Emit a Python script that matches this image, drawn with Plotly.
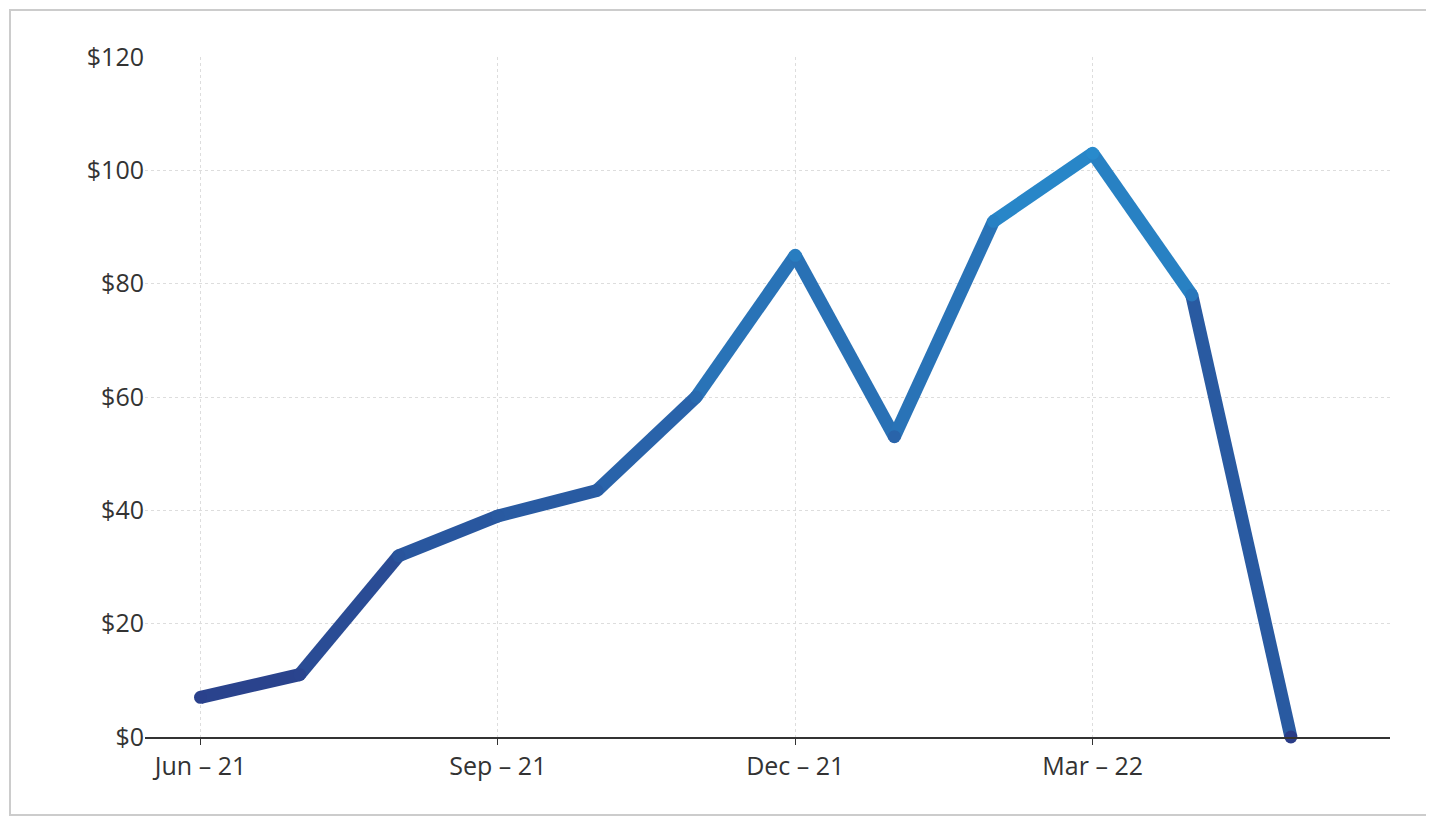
import plotly.graph_objects as go

months = ["Jun – 21","Jul – 21","Aug – 21","Sep – 21","Oct – 21","Nov – 21","Dec – 21","Jan – 22","Feb – 22","Mar – 22","Apr – 22","May – 22"]
values = [7, 11, 32, 39, 43.5, 60, 85, 53, 91, 103, 78, 0]
tick_pos = [0, 3, 6, 9]
tick_text = ["Jun – 21", "Sep – 21", "Dec – 21", "Mar – 22"]
y_ticks = [0, 20, 40, 60, 80, 100, 120]
y_labels = ["$0", "$20", "$40", "$60", "$80", "$100", "$120"]

lo = (42, 60, 135)
hi = (40, 140, 205)
def col(v):
    t = max(0, min(1, v / 105))
    return "rgb(%d,%d,%d)" % tuple(round(a + (b - a) * t) for a, b in zip(lo, hi))

fig = go.Figure()
x = list(range(len(values)))
for i in range(len(values) - 1):
    fig.add_trace(go.Scatter(x=x[i:i+2], y=values[i:i+2], mode="lines",
                             line=dict(color=col((values[i] + values[i+1]) / 2), width=13),
                             hoverinfo="skip", showlegend=False, cliponaxis=False))
fig.add_trace(go.Scatter(x=x, y=values, mode="markers",
                         marker=dict(size=13, color=[col(v) for v in values], line=dict(width=0)),
                         hoverinfo="skip", showlegend=False, cliponaxis=False))

W, H = 1426, 809
L, R, T, B = 137, 44, 49, 80
pw, ph = W - L - R, H - T - B
fig.update_layout(
    width=W, height=H, paper_bgcolor="white", plot_bgcolor="white",
    margin=dict(l=L, r=R, t=T, b=B),
    font=dict(family="Open Sans", size=25, color="#333"),
    xaxis=dict(range=[-0.56, 12.0], tickvals=tick_pos, ticktext=tick_text,
               showgrid=True, gridcolor="#dddddd", griddash="dot", zeroline=False,
               showline=True, linecolor="#333", linewidth=2, ticks="outside",
               ticklen=6, tickcolor="#333"),
    yaxis=dict(range=[0, 120], tickvals=y_ticks, ticktext=y_labels,
               showgrid=True, gridcolor="#dddddd", griddash="dot", zeroline=False),
    shapes=[dict(type="rect", xref="paper", yref="paper", x0=-(L - 2) / pw, x1=1 + (R - 2) / pw,
                 y0=-(B - 2) / ph, y1=1 + (T - 2) / ph, line=dict(color="#cccccc", width=2))],
)
fig.write_html("out.html")
